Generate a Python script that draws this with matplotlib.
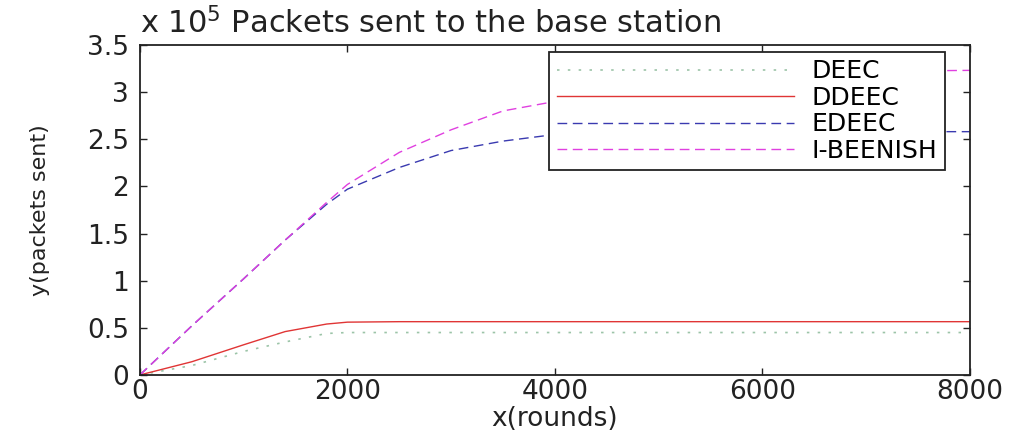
import matplotlib
matplotlib.use("Agg")
import matplotlib.pyplot as plt

plt.rcParams['font.family'] = ['DejaVu Sans']

# values in units of 1e5 packets
rounds = [0, 500, 1000, 1400, 1800, 2000, 2500, 3000, 3500, 4000, 5000, 6000, 7000, 8000]
deec = [0, 0.10, 0.25, 0.35, 0.44, 0.45, 0.45, 0.45, 0.45, 0.45, 0.45, 0.45, 0.45, 0.45]
ddeec = [0, 0.14, 0.32, 0.46, 0.54, 0.56, 0.565, 0.565, 0.565, 0.565, 0.565, 0.565, 0.565, 0.565]
edeec = [0, 0.52, 1.02, 1.43, 1.81, 1.97, 2.20, 2.38, 2.48, 2.55, 2.57, 2.58, 2.58, 2.58]
ibeenish = [0, 0.52, 1.02, 1.43, 1.83, 2.02, 2.36, 2.60, 2.80, 2.90, 3.08, 3.18, 3.22, 3.23]

xticks = [0, 2000, 4000, 6000, 8000]
yticks = [0, 0.5, 1, 1.5, 2, 2.5, 3, 3.5]
ytick_labels = ['0', '0.5', '1', '1.5', '2', '2.5', '3', '3.5']

fig = plt.figure(figsize=(10.21, 4.36), dpi=100)
ax = fig.add_axes([0.137, 0.140, 0.813, 0.757])

ax.plot(rounds, deec, color='#9cc4a8', lw=1.2, ls=(0, (1.5, 5)), label='DEEC')
ax.plot(rounds, ddeec, color='#e03535', lw=1.0, ls='-', label='DDEEC')
ax.plot(rounds, edeec, color='#3a3ab0', lw=1.0, ls=(0, (7, 4)), label='EDEEC')
ax.plot(rounds, ibeenish, color='#e040e0', lw=1.0, ls=(0, (7, 4)), label='I-BEENISH')

ax.set_xlim(0, 8000)
ax.set_ylim(0, 3.5)
ax.set_xticks(xticks)
ax.set_yticks(yticks)
ax.set_yticklabels(ytick_labels)
ax.tick_params(direction='in', top=True, right=True, labelsize=19, length=5, width=1,
               colors='#222222')
ax.tick_params(axis='x', pad=3)
ax.tick_params(axis='y', pad=8)
for s in ax.spines.values():
    s.set_linewidth(1.3)
    s.set_color('#222222')

ax.set_xlabel('x(rounds)', fontsize=19, color='#222222')
ax.xaxis.set_label_coords(0.5, -0.094)
ax.set_ylabel('y(packets sent)', fontsize=16, color='#222222')
ax.yaxis.set_label_coords(-0.108, 0.5)
ax.text(0.0, 1.036, 'x 10$^5$ Packets sent to the base station', transform=ax.transAxes,
        fontsize=22, ha='left', va='baseline', color='#222222')

leg = ax.legend(loc='upper right', bbox_to_anchor=(0.970, 0.979), borderaxespad=0,
                fontsize=18, handlelength=9.5, handletextpad=0.7, labelspacing=0.1,
                borderpad=0.3, fancybox=False, framealpha=1, edgecolor='#222222')
leg.get_frame().set_linewidth(1.3)

plt.savefig('out.png', dpi=100)
